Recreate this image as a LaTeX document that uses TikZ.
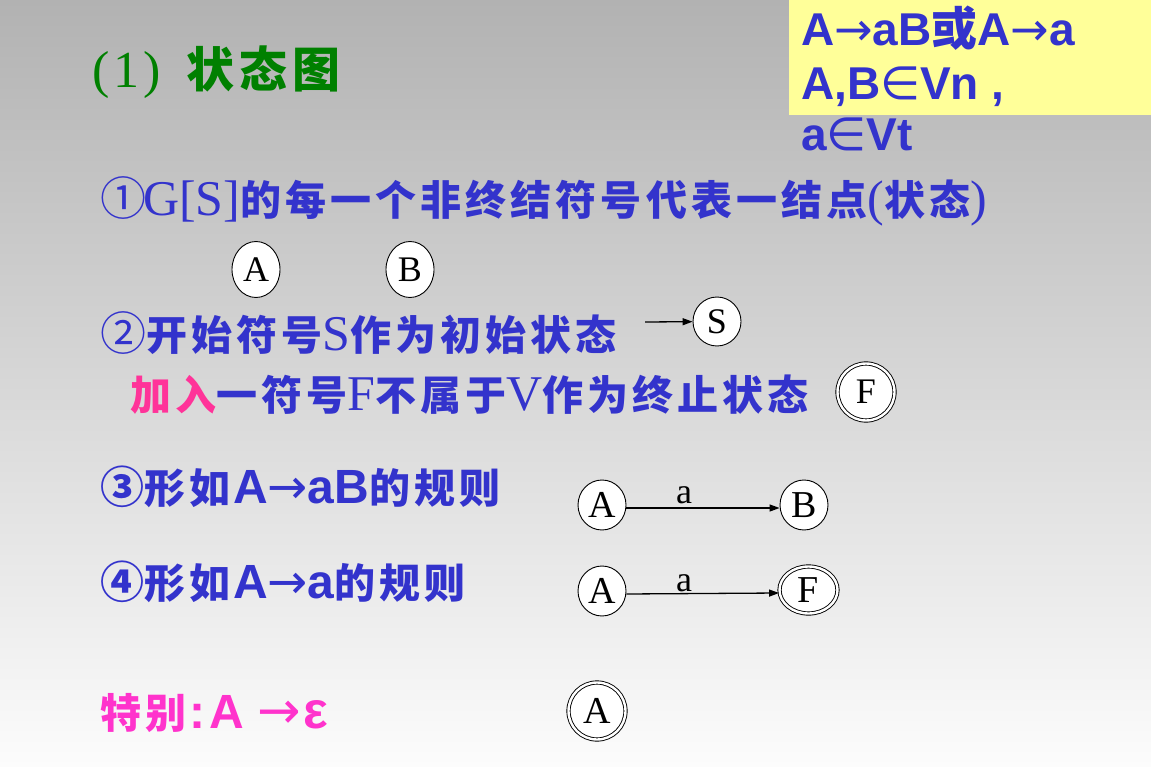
\documentclass[tikz,border=0pt]{standalone}
\usepackage{fontspec}
\usetikzlibrary{shapes.geometric,arrows.meta}
\setmainfont{Liberation Serif}
\newfontfamily\cjk{Noto Sans CJK SC}[LetterSpace=10]
\newfontfamily\cjkn{Noto Sans CJK SC}
\newfontfamily\lsans{Liberation Sans}
\newfontfamily\djsym{DejaVu Sans}
\definecolor{myblue}{HTML}{3333CC}
\definecolor{mygreen}{HTML}{008000}
\definecolor{pinkA}{HTML}{FF3399}
\definecolor{pinkB}{HTML}{FF33CC}
\definecolor{yellowbg}{HTML}{FFFF99}
\definecolor{bgtop}{HTML}{B2B2B2}
\definecolor{bgbot}{HTML}{FCFCFC}
\newcommand\rarr{{\djsym\mdseries →}}
\newcommand\elem{{\djsym\mdseries ∈}}
\newcommand\zh[1]{{\cjk\bfseries\fontsize{41}{41}\selectfont #1}}
\newcommand\sr[1]{{\rmfamily\mdseries\fontsize{50}{50}\selectfont #1}}
\newcommand\circd[1]{{\cjkn\fontsize{46}{46}\selectfont #1}}
\newcommand\circb[1]{{\cjkn\bfseries\fontsize{44}{44}\selectfont #1}}
\newcommand\bs[1]{{\lsans\bfseries\fontsize{46}{46}\selectfont #1}}
\newcommand\bsl[1]{{\lsans\bfseries\fontsize{48}{48}\selectfont #1}}
\tikzset{
  txt/.style={anchor=base west, inner sep=0pt, outer sep=0pt},
  statebox/.style={ellipse, draw=black, fill=white, line width=0.9pt, inner sep=0pt,
    font=\fontsize{36}{36}\selectfont, minimum width=48pt, minimum height=50pt},
  acceptbox/.style={statebox, double=white, double distance=2.4pt, line width=0.9pt},
  trans/.style={-{Triangle[length=10pt,width=7pt]}, line width=1.3pt},
  lbl/.style={anchor=base, inner sep=0pt, font=\fontsize{36}{36}\selectfont}
}
\begin{document}
\begin{tikzpicture}[x=1pt,y=-1pt]
\useasboundingbox (0,0) rectangle (1151,767);
\shade[top color=bgtop, bottom color=bgbot] (0,0) rectangle (1151,767);
\fill[yellowbg] (789,0) rectangle (1151,115);

% top-right box
\node[txt, text=myblue] (t1) at (801,46) {\bs{A\rarr aB{\cjkn\bfseries 或}A\rarr a}};
\node[txt, text=myblue] (t2) at (801,100) {\bs{A,B\elem Vn ,}};
\node[txt, text=myblue] (t3) at (801,151) {\bs{a\elem Vt}};

% title
\node[txt, text=mygreen] (title) at (92,88) {{\fontsize{52}{52}\selectfont(\kern4pt1\kern4pt)}\kern26pt{\cjk\bfseries\fontsize{48}{48}\selectfont 状态图}};

% line 1
\node[txt, text=myblue] (l1) at (100,216) {\circd{①}\kern-3pt\sr{G[S]}\zh{的每一个非终结符号代表一结点}\sr{(}\zh{状态}\sr{)}};
\node[statebox, minimum width=48pt, minimum height=56pt] (nA) at (256,269.5) {A};
\node[statebox, minimum width=48pt, minimum height=56pt] (nB) at (410,269.5) {B};

% line 2
\node[txt, text=myblue] (l2) at (100,350) {\circd{②}\zh{开始符号}\sr{S}\zh{作为初始状态}};
\coordinate (sin) at (645,322);
\node[statebox, minimum width=48pt, minimum height=49pt] (nS) at (717,321.5) {S};
\draw[trans] (sin) -- (nS);

% line 2b
\node[txt, text=myblue] (l2b) at (130,410) {{\color{pinkA}\zh{加入}}\zh{一符号}\sr{F}\zh{不属于}\sr{V}\zh{作为终止状态}};
\node[acceptbox, minimum width=57pt, minimum height=57pt] (nF) at (866,392) {F};

% line 3
\node[txt, text=myblue] (l3) at (100,503) {\circb{③}\zh{形如}\kern3pt\bsl{A\rarr aB}\zh{的规则}};
\node[statebox, font=\fontsize{38}{38}\selectfont] (rA1) at (602,505) {A};
\node[statebox, font=\fontsize{38}{38}\selectfont] (rB1) at (804,505) {B};
\draw[trans] ([yshift=-3pt]rA1.east) -- ([yshift=-3pt]rB1.west);
\node[lbl] (la1) at (684,503) {a};

% line 4
\node[txt, text=myblue] (l4) at (100,598) {\circb{④}\zh{形如}\kern3pt\bsl{A\rarr a}\zh{的规则}};
\node[statebox, font=\fontsize{38}{38}\selectfont] (rA2) at (602,591) {A};
\node[acceptbox, font=\fontsize{38}{38}\selectfont, minimum width=58pt, minimum height=47pt] (rF2) at (808.5,590) {F};
\draw[trans] ([yshift=-3pt]rA2.east) -- ([yshift=-3pt]rF2.west);
\node[lbl] (la2) at (684,591) {a};

% special
\node[txt, text=pinkB] (l5) at (100,728) {\zh{特别}\kern3pt{\lsans\bfseries\fontsize{48}{48}\selectfont :\kern4pt A\kern14pt{\fontsize{52}{52}\selectfont\rarr}\kern2pt{\fontsize{52}{52}\selectfont ε}}};
\node[acceptbox, font=\fontsize{38}{38}\selectfont, minimum width=57pt, minimum height=57pt] (nAA) at (597,711) {A};
\end{tikzpicture}
\end{document}
